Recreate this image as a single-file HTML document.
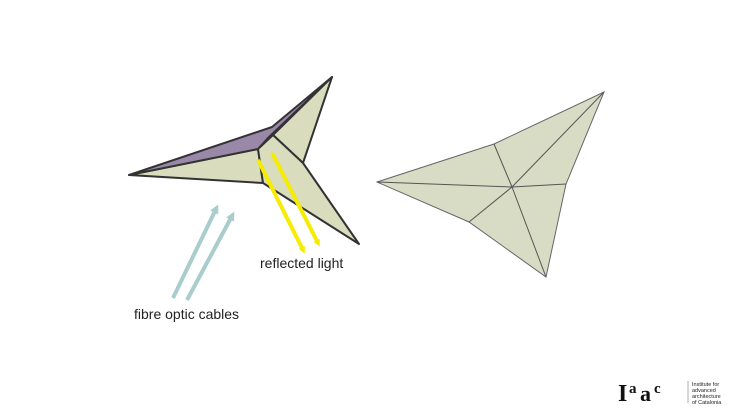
<!DOCTYPE html>
<html><head><style>
html,body{margin:0;padding:0;background:#fff;}
body{width:730px;height:411px;position:relative;overflow:hidden;font-family:"Liberation Sans",sans-serif;}
</style></head><body>
<svg width="730" height="411" style="position:absolute;left:0;top:0">
<defs>
<marker id="ab" markerUnits="userSpaceOnUse" markerWidth="9" markerHeight="9" refX="4" refY="4.5" orient="auto"><path d="M0,0 L9,4.5 L0,9 z" fill="#a9cccc"/></marker>
<marker id="ay" markerUnits="userSpaceOnUse" markerWidth="7" markerHeight="7" refX="3" refY="3.5" orient="auto"><path d="M0,0 L7,3.5 L0,7 z" fill="#f5ec00"/></marker>
</defs>
<!-- left shape -->
<polygon points="129,175 258,149 263,183" fill="#d9dcbd" stroke="#333" stroke-width="2" stroke-linejoin="round"/>
<polygon points="129,175 272,127 332,77 268,138 258,149" fill="#9a88a8" stroke="#333" stroke-width="2" stroke-linejoin="round"/>
<polygon points="273,135 332,77 303,163" fill="#d9dcbd" stroke="#333" stroke-width="2" stroke-linejoin="round"/>
<polygon points="258,149 273,135 303,163 359,244 263,183" fill="#d9dcbd" stroke="#333" stroke-width="2" stroke-linejoin="round"/>
<line x1="258" y1="160" x2="303" y2="250" stroke="#f5ec00" stroke-width="4" marker-end="url(#ay)"/>
<line x1="272" y1="153" x2="318" y2="243" stroke="#f5ec00" stroke-width="4" marker-end="url(#ay)"/>
<line x1="173" y1="298" x2="216" y2="209" stroke="#a9cccc" stroke-width="4" marker-end="url(#ab)"/>
<line x1="187" y1="300" x2="232" y2="216" stroke="#a9cccc" stroke-width="4" marker-end="url(#ab)"/>
<!-- right shape -->
<polygon points="377,182 494,144 604,92 566,184 546,277 469,222" fill="#d8dcc4" stroke="#666" stroke-width="1"/>
<g stroke="#555" stroke-width="1">
<line x1="512" y1="187" x2="377" y2="182"/>
<line x1="512" y1="187" x2="604" y2="92"/>
<line x1="512" y1="187" x2="546" y2="277"/>
<line x1="512" y1="187" x2="494" y2="144"/>
<line x1="512" y1="187" x2="566" y2="184"/>
<line x1="512" y1="187" x2="469" y2="222"/>
</g>
<text x="260" y="268" font-size="14" fill="#222" font-family="Liberation Sans, sans-serif">reflected light</text>
<text x="134" y="319" font-size="14" fill="#222" font-family="Liberation Sans, sans-serif">fibre optic cables</text>
<!-- logo -->
<g font-weight="bold" font-family="Liberation Serif, serif" fill="#111">
<text x="618" y="401" font-size="24">I</text>
<text x="629" y="393" font-size="15">a</text>
<text x="640" y="401" font-size="22">a</text>
<text x="654" y="393" font-size="15">c</text>
</g>
<line x1="688" y1="381" x2="688" y2="403" stroke="#999" stroke-width="0.8"/>
<g font-size="5.5" fill="#222" font-family="Liberation Sans, sans-serif">
<text x="692" y="386">Institute for</text>
<text x="692" y="392">advanced</text>
<text x="692" y="398">architecture</text>
<text x="692" y="404">of Catalonia</text>
</g>
</svg>
</body></html>
